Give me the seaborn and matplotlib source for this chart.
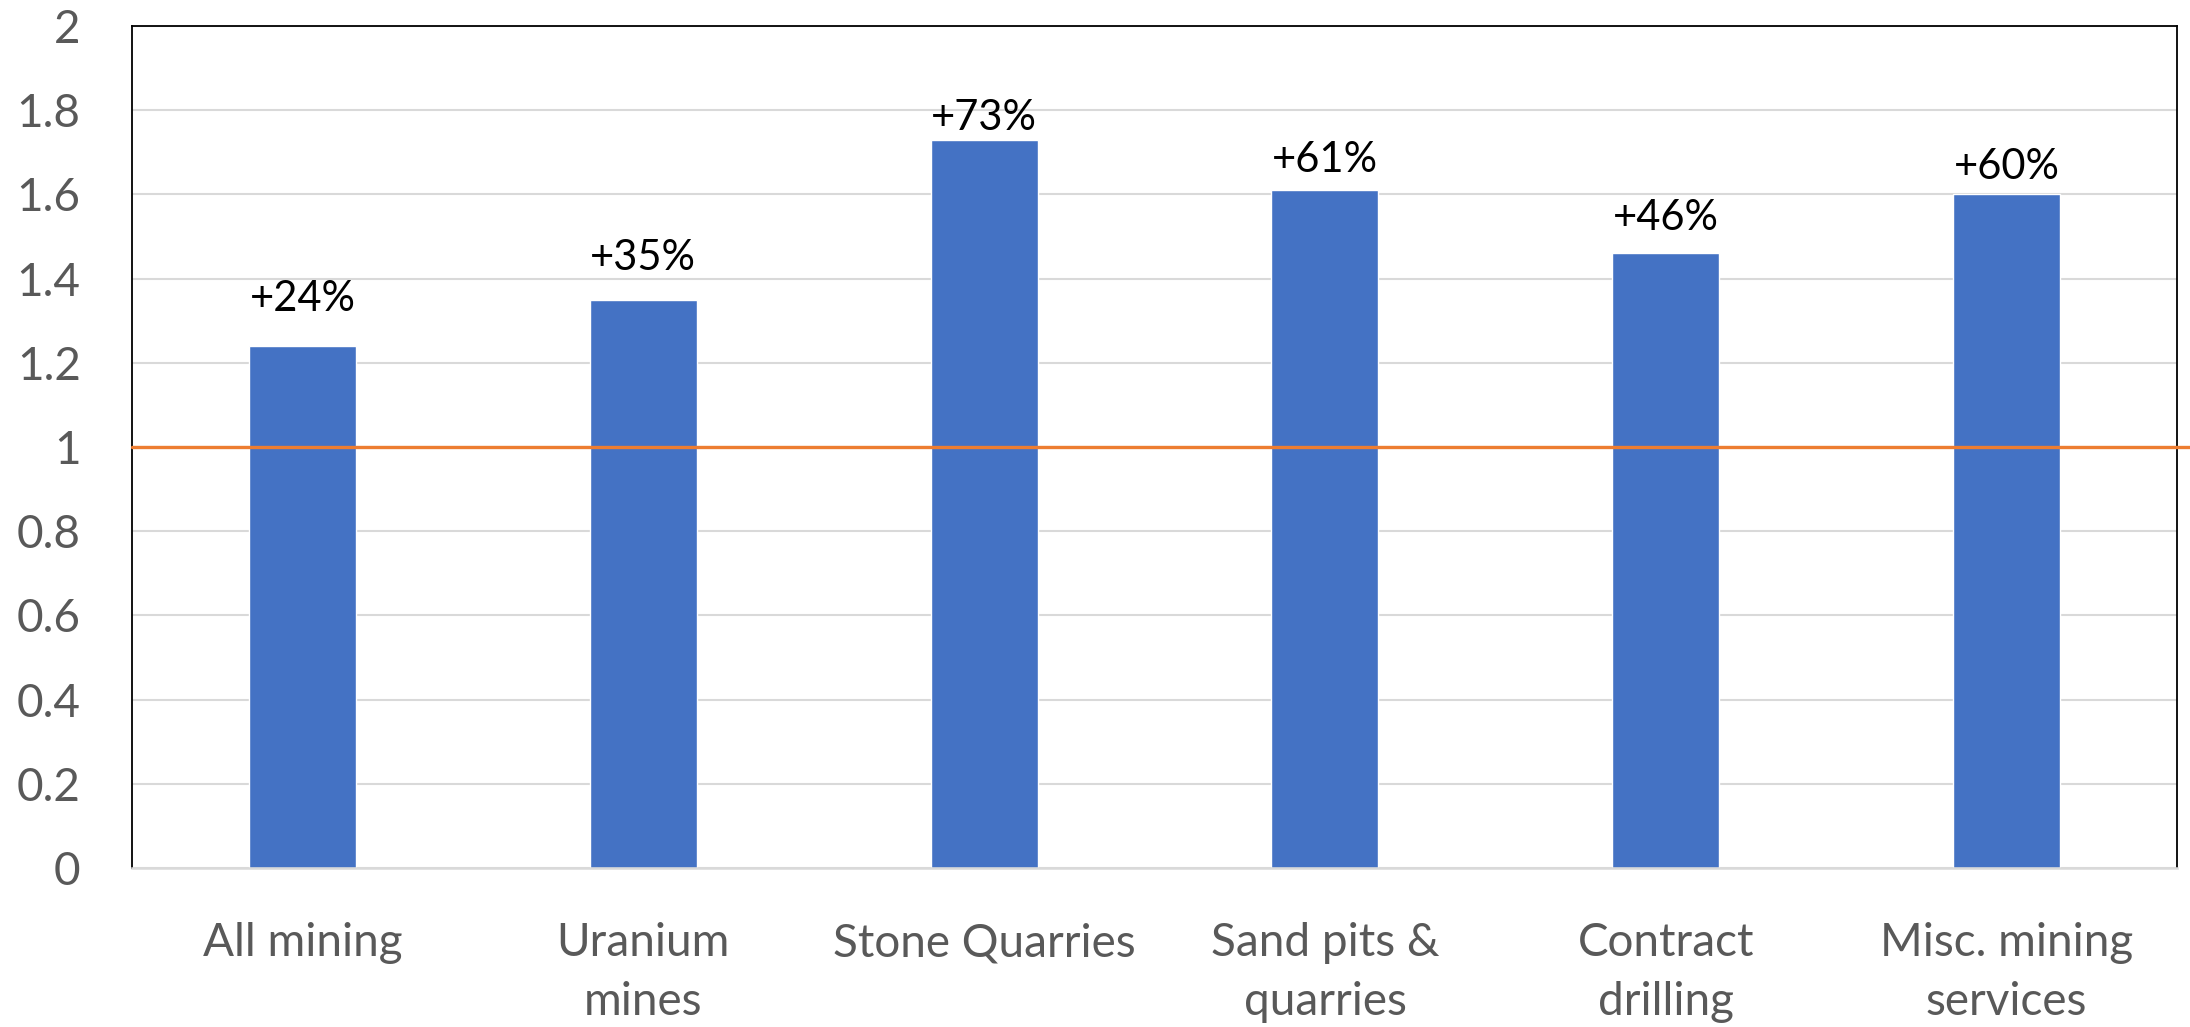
import matplotlib
matplotlib.use("Agg")
import matplotlib.pyplot as plt
import matplotlib.transforms as mtransforms
import seaborn as sns
import pandas as pd

# Employment ratio by mining sub-sector (1 = baseline)
categories = ["All mining", "Uranium\nmines", "Stone Quarries",
              "Sand pits &\nquarries", "Contract\ndrilling", "Misc. mining\nservices"]
ratios = [1.24, 1.35, 1.73, 1.61, 1.46, 1.60]
baseline = 1.0
y_ticks = [0, 0.2, 0.4, 0.6, 0.8, 1, 1.2, 1.4, 1.6, 1.8, 2]
y_tick_labels = ["0", "0.2", "0.4", "0.6", "0.8", "1", "1.2", "1.4", "1.6", "1.8", "2"]

# gap (pixels) between each bar top and its value label
label_gaps = [35, 30, 10, 18, 23, 15]

sns.set_theme(style="white")
plt.rcParams["font.family"] = ["Lato", "DejaVu Sans"]

BAR = "#4472C4"
ORANGE = "#ED7D31"
GRID = "#D9D9D9"
TEXT = "#595959"

df = pd.DataFrame({"category": categories, "ratio": ratios})

fig = plt.figure(figsize=(21.9, 10.27), dpi=100)
ax = fig.add_axes([0.0603, 0.1548, 0.9338, 0.8199])

sns.barplot(data=df, x="category", y="ratio", color=BAR, saturation=1,
            width=0.314, ax=ax, zorder=2)

ax.set_xlim(-0.5, len(categories) - 0.5)
ax.set_ylim(0, 2)
ax.set_yticks(y_ticks)
ax.set_yticklabels(y_tick_labels)
ax.set_xlabel("")
ax.set_ylabel("")

ax.set_axisbelow(True)
ax.yaxis.grid(True, color=GRID, linewidth=1.5)
ax.xaxis.grid(False)

for side in ("left", "top", "right"):
    ax.spines[side].set_visible(True)
    ax.spines[side].set_color("black")
    ax.spines[side].set_linewidth(1.3)
ax.spines["bottom"].set_color(GRID)
ax.spines["bottom"].set_linewidth(1.8)

ax.tick_params(axis="y", length=0, pad=37, labelsize=33, labelcolor=TEXT)
ax.tick_params(axis="x", length=0, pad=39, labelsize=33, labelcolor=TEXT)
for lbl in ax.get_xticklabels():
    lbl.set_linespacing(1.5)

# reference line at 1, running past the right border to the figure edge
trans = mtransforms.blended_transform_factory(fig.transFigure, ax.transData)
ax.plot([0.0603, 1.0], [baseline, baseline], color=ORANGE, linewidth=2.4,
        transform=trans, clip_on=False, zorder=4)

# value labels: percentage change versus the baseline
for i, (v, gap) in enumerate(zip(ratios, label_gaps)):
    ax.annotate(f"+{round((v - baseline) * 100)}%", xy=(i, v),
                xytext=(0, gap), textcoords="offset pixels",
                ha="center", va="baseline", fontsize=30, color="black",
                zorder=5)

fig.savefig("out.png", dpi=100)
